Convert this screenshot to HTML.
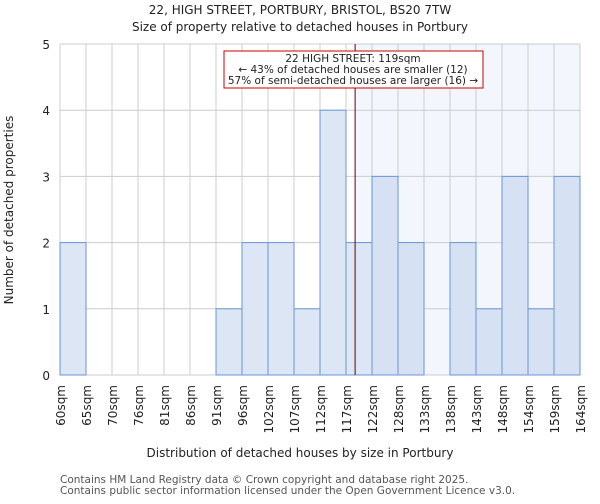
<!DOCTYPE html>
<html><head><meta charset="utf-8"><style>
body{margin:0;background:#fff;font-family:"DejaVu Sans","Liberation Sans",sans-serif}
</style></head><body>
<svg id="c" width="600" height="500" xmlns="http://www.w3.org/2000/svg" font-family="DejaVu Sans, Liberation Sans, sans-serif">
<text x="300" y="14" text-anchor="middle" font-size="12" fill="#222">22, HIGH STREET, PORTBURY, BRISTOL, BS20 7TW</text>
<text x="300" y="31" text-anchor="middle" font-size="12" fill="#222">Size of property relative to detached houses in Portbury</text>
<g id="plot"></g>
<text x="300" y="457" text-anchor="middle" font-size="12" fill="#222">Distribution of detached houses by size in Portbury</text>
<text transform="translate(13,210) rotate(-90)" text-anchor="middle" font-size="12" fill="#222">Number of detached properties</text>
<text x="60" y="483" font-size="10.5" fill="#555">Contains HM Land Registry data © Crown copyright and database right 2025.</text>
<text x="60" y="494" font-size="10.5" fill="#555">Contains public sector information licensed under the Open Government Licence v3.0.</text>
</svg>
<script>
const binLabels=["60sqm","65sqm","70sqm","76sqm","81sqm","86sqm","91sqm","96sqm","102sqm","107sqm","112sqm","117sqm","122sqm","128sqm","133sqm","138sqm","143sqm","148sqm","154sqm","159sqm","164sqm"];
const counts=[2,0,0,0,0,0,1,2,2,1,4,2,3,2,0,2,1,3,1,3];
const yTicks=[0,1,2,3,4,5];
const markerIndex=11.35;
const NS="http://www.w3.org/2000/svg";
const g=document.getElementById("plot");
const L=60,R=580,T=44,B=375,ymax=5;
const n=counts.length,bw=(R-L)/n;
const xs=i=>L+i*bw, ys=v=>B-(v/ymax)*(B-T);
function mk(t,a,p){const e=document.createElementNS(NS,t);for(const k in a)e.setAttribute(k,a[k]);(p||g).appendChild(e);return e;}
const mx=xs(markerIndex);
let e=mk("rect",{x:mx,y:T,width:R-mx,height:B-T,fill:"#f3f6fd"});


for(let i=0;i<=n;i++){e=mk("line",{x1:xs(i),x2:xs(i),y1:T,y2:B,stroke:"#ccc","stroke-width":1});

}
yTicks.forEach(v=>{e=mk("line",{x1:L,x2:R,y1:ys(v),y2:ys(v),stroke:"#ccc","stroke-width":1});


e=mk("text",{x:L-10,y:ys(v)+5,"text-anchor":"end","font-size":"12",fill:"#222"});e.textContent=v;

});
counts.forEach((c,i)=>{if(!c)return;const right=i>markerIndex;
e=mk("rect",{x:xs(i),y:ys(c),width:bw,height:B-ys(c),fill:right?"#d6e1f4":"#dce6f4",stroke:"#6a97d8","stroke-width":1});

});
binLabels.forEach((l,i)=>{e=mk("text",{transform:`translate(${xs(i)+5},${B+10}) rotate(-90)`,"text-anchor":"end","font-size":"12",fill:"#222"});e.textContent=l;

});
e=mk("line",{x1:mx,x2:mx,y1:T,y2:B,stroke:"#600","stroke-width":1});


e=mk("rect",{x:224,y:51,width:259,height:37,fill:"#fff",stroke:"#c00","stroke-width":1});


["22 HIGH STREET: 119sqm","← 43% of detached houses are smaller (12)","57% of semi-detached houses are larger (16) →"].forEach((s,k)=>{
e=mk("text",{x:353,y:62+k*11,"text-anchor":"middle","font-size":"10.5",fill:"#222"});e.textContent=s;

});
</script>
</body></html>
